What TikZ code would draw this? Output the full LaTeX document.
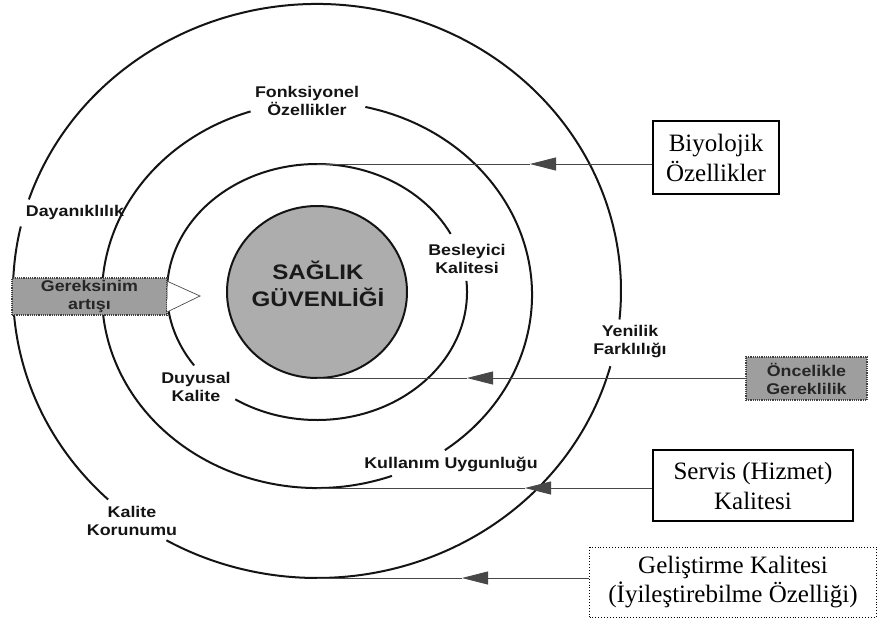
\documentclass[tikz,border=0pt]{standalone}
\usepackage{fontspec}
\setmainfont{Liberation Serif}
\newfontfamily\labfont[FakeStretch=1.15]{Liberation Sans}
\usetikzlibrary{arrows.meta}
\begin{document}
\begin{tikzpicture}[x=1pt,y=-1pt,
  ring/.style={line width=2pt, black!92},
  lab/.style={font=\labfont\bfseries\fontsize{15.5}{18}\selectfont, align=center, inner sep=0pt, text=black!92},
  corelab/.style={font=\labfont\bfseries\fontsize{21}{27}\selectfont, align=center, inner sep=0pt, text=black!90},
  feed/.style={line width=0.8pt, black!72},
  feedtip/.style={feed, -{Triangle[length=26pt,width=13pt]}},
  serifbox/.style={draw, line width=1.1pt, font=\fontsize{25}{30}\selectfont, align=center, inner sep=0pt},
  dotbox/.style={serifbox, line width=0.9pt, dotted, font=\fontsize{25}{29}\selectfont},
  shadebox/.style={fill=black!38, draw=black!75, densely dotted, line width=1.2pt, inner sep=0pt, align=center},
  chev/.style={line width=0.7pt, black!70}
]
\useasboundingbox (0,0) rectangle (878,624);
\fill[white] (0,0) rectangle (878,624);

% core disc
\draw[ring, fill=black!32] (317,292) ellipse [x radius=90, y radius=86];
\node[corelab] (core) at (318,284) {SAĞLIK\\GÜVENLİĞİ};
\coordinate (coreB) at (317,378);

% first ring (gaps for Besleyici / Duyusal)
\draw[ring] (317,292) ++(-5:150 and 128) arc[start angle=-5, end angle=123, x radius=150, y radius=128];
\draw[ring] (317,292) ++(145:150 and 128) arc[start angle=145, end angle=333, x radius=150, y radius=128];
\coordinate (r1T) at (317,164);

% second ring (gaps for Fonksiyonel / Kullanim)
\draw[ring] (317,295) ++(-77:215 and 193) arc[start angle=-77, end angle=53.5, x radius=215, y radius=193];
\draw[ring] (317,295) ++(69.6:215 and 193) arc[start angle=69.6, end angle=252, x radius=215, y radius=193];
\coordinate (r2B) at (317,488);

% outer ring (gaps for Yenilik / Kalite Korunumu / Dayaniklilik)
\draw[ring] (317,291) ++(15.2:304 and 287) arc[start angle=15.2, end angle=119.7, x radius=304, y radius=287];
\draw[ring] (317,291) ++(133.4:304 and 287) arc[start angle=133.4, end angle=193, x radius=304, y radius=287];
\draw[ring] (317,291) ++(198.6:304 and 287) arc[start angle=198.6, end angle=365.7, x radius=304, y radius=287];
\coordinate (r3B) at (317,578);

% ring labels
\node[lab] (fonk) at (307,101) {Fonksiyonel\\Özellikler};
\node[lab] (day) at (75,212) {Dayanıklılık};
\node[lab] (bes) at (467,259) {Besleyici\\Kalitesi};
\node[lab] (yen) at (630,342) {Yenilik\\Farklılığı};
\node[lab] (duy) at (196,387) {Duyusal\\Kalite};
\node[lab] (kul) at (451,464) {Kullanım Uygunluğu};
\node[lab] (kor) at (132,521) {Kalite\\Korunumu};

% need-growth bar with open chevron
\node[shadebox, minimum width=155pt, minimum height=37pt] (ger) at (89.5,296.5) {};
\node[lab, text=black!85] at (ger.center) {Gereksinim\\artışı};
\draw[chev, fill=white] (ger.north east) ++(0,4) -- (200,296) -- (167,312);

% input boxes
\node[serifbox, minimum width=126pt, minimum height=73pt] (bio) at (716,157.5) {Biyolojik\\Özellikler};
\node[shadebox, minimum width=121pt, minimum height=43pt] (onc) at (806.5,378.5) {};
\node[lab, text=black!85] at (onc.center) {Öncelikle\\Gereklilik};
\node[serifbox, minimum width=200pt, minimum height=71pt] (serv) at (753,485.5) {Servis (Hizmet)\\Kalitesi};
\node[dotbox, minimum width=287pt, minimum height=70pt] (gel) at (733,582) {Geliştirme Kalitesi\\(İyileştirebilme Özelliği)};

% feed arrows
\coordinate (t1) at (530,164);
\coordinate (t2) at (467,378);
\coordinate (t3) at (525,488);
\coordinate (t4) at (462,578);
\draw[feedtip] (bio.west |- t1) -- (t1);
\draw[feed] (t1) -- (r1T);
\draw[feedtip] (onc.west |- t2) -- (t2);
\draw[feed] (t2) -- (coreB);
\draw[feedtip] (serv.west |- t3) -- (t3);
\draw[feed] (t3) -- (r2B);
\draw[feedtip] (gel.west |- t4) -- (t4);
\draw[feed] (t4) -- (r3B);
\end{tikzpicture}
\end{document}
